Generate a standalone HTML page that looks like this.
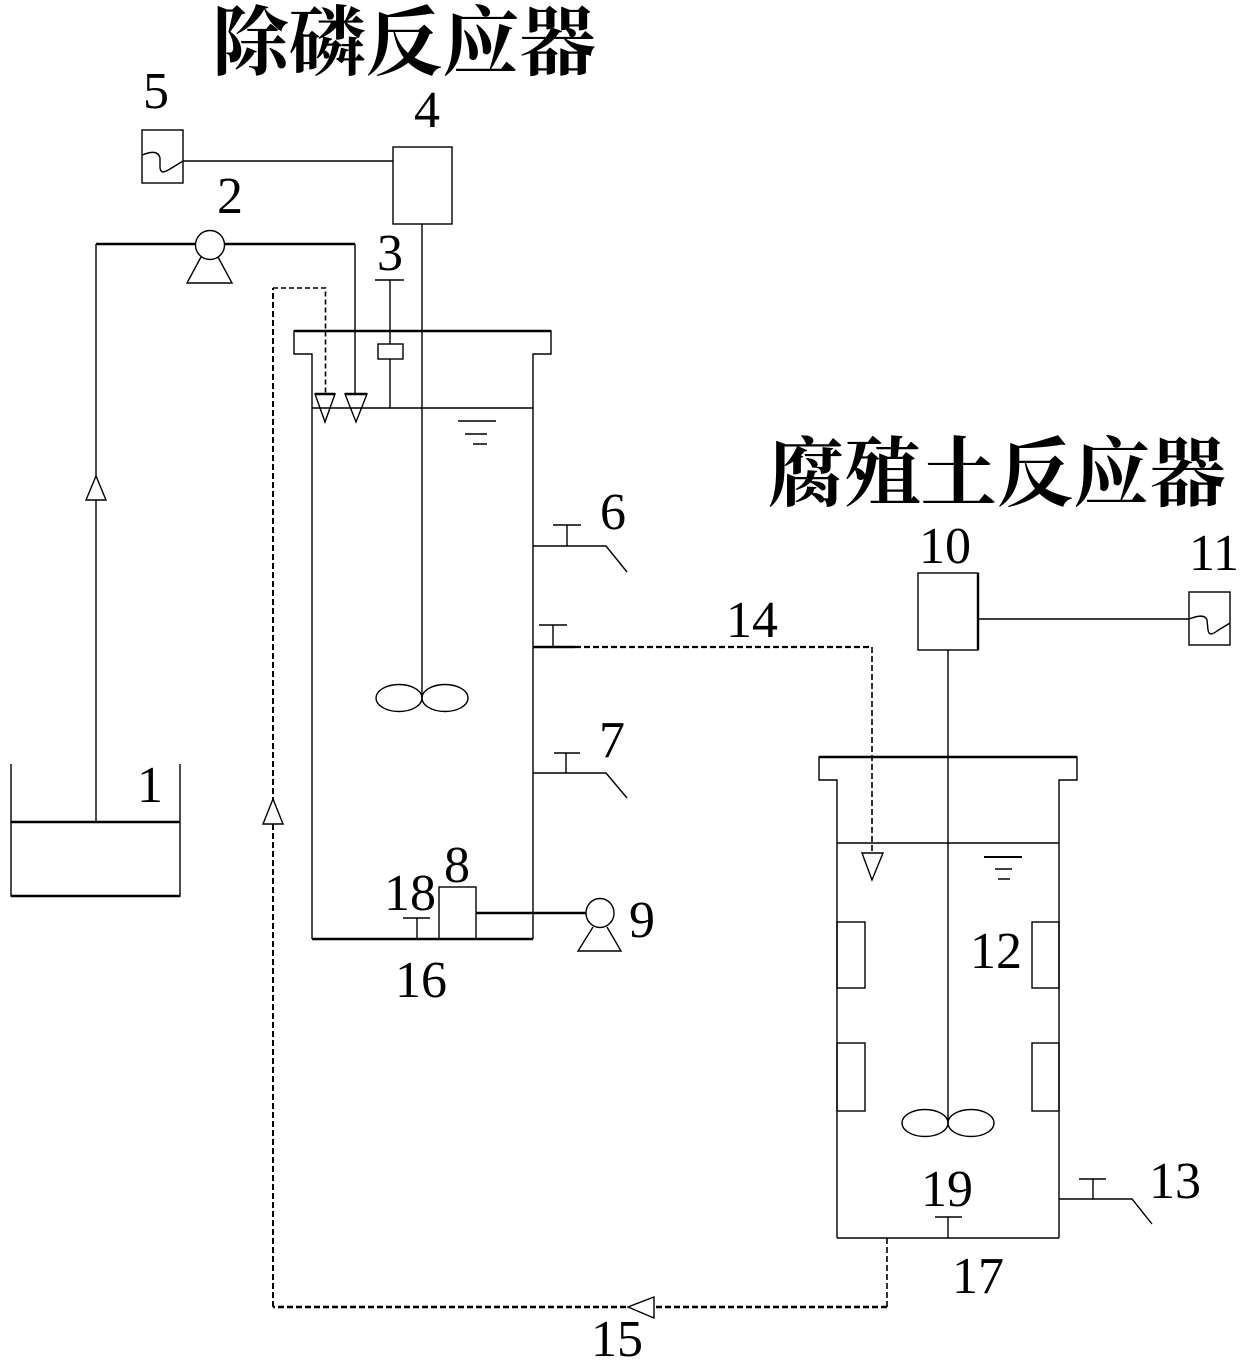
<!DOCTYPE html>
<html>
<head>
<meta charset="utf-8">
<style>
  html,body{margin:0;padding:0;background:#fff;}
  svg{display:block;}
  .t{font-family:"Liberation Serif","Times New Roman",serif;font-size:52px;fill:#000;text-anchor:middle;}
  .cn{font-family:"Liberation Serif","Noto Serif CJK SC","Noto Sans CJK SC",serif;font-size:76px;font-weight:700;fill:#000;}
</style>
</head>
<body>
<svg width="1248" height="1368" viewBox="0 0 1248 1368" xmlns="http://www.w3.org/2000/svg">
  <rect width="1248" height="1368" fill="#fff"/>

  <!-- Titles -->
  <text class="cn" x="212" y="69" textLength="384" lengthAdjust="spacingAndGlyphs">除磷反应器</text>
  <text class="cn" x="768" y="500" textLength="458" lengthAdjust="spacingAndGlyphs">腐殖土反应器</text>

  <g fill="none" stroke="#000" stroke-width="1.4">
    <!-- Box 5 and wave -->
    <rect x="142" y="130" width="41" height="53"/>
    <path d="M142,155 C150,152 158,150 160,158 L160,168 C161,174 165,172 170,169 L183,161"/>
    <path d="M183,161 H393"/>
    <!-- Box 4 -->
    <rect x="393" y="147" width="59" height="77"/>
    <path d="M422,224 V698"/>

    <!-- Pump 2 and feed pipe -->
    <circle cx="210" cy="245" r="14.5"/>
    <path d="M201,257 L187,283 H232 L218,257"/>
    <path d="M96,822 V244"/>
    <path d="M96,244 H195.5" stroke-width="2.4"/>
    <path d="M224.5,244 H355" stroke-width="2.4"/>
    <path d="M355,244 V394"/>
    <!-- up arrow on feed pipe -->
    <polygon points="96,476 86,500 106,500" fill="#fff"/>

    <!-- inlet triangles -->
    <polygon points="315,394 335,394 325,422" fill="#fff"/>
    <polygon points="345,394 367,394 356,422" fill="#fff"/>
    <path d="M315,394 H335 M345,394 H367" stroke-width="2.4"/>

    <!-- Item 3 -->
    <path d="M375,280 H404 M390,280 V408"/>
    <rect x="378" y="344" width="25" height="15" fill="#fff"/>

    <!-- Reactor 1 -->
    <path d="M312,939 V354 H294 V331 H551 V354 H533 V939"/>
    <path d="M294,331 H551" stroke-width="2.6"/>
    <path d="M312,939 H533" stroke-width="2.6"/>
    <path d="M312,408 H533"/>
    <path d="M458,421 H496 M465,434 H487 M473,444 H487"/>
    <ellipse cx="399" cy="698" rx="23" ry="13.5"/>
    <ellipse cx="445" cy="698" rx="23" ry="13.5"/>

    <!-- Valve 6 -->
    <path d="M533,546 H606 L627,572 M567,546 V525 M553,525 H581"/>
    <!-- Outlet 14 -->
    <path d="M533,647 H575" stroke-width="2.4"/>
    <path d="M553,647 V625 M539,625 H567"/>
    <path d="M575,647 H872" stroke-width="2.2" stroke-dasharray="6 3"/>
    <path d="M872,647 V853" stroke-width="1.6" stroke-dasharray="6 3"/>
    <polygon points="862,853 883,853 872,880" fill="#fff"/>
    <!-- Valve 7 -->
    <path d="M533,773 H606 L627,798 M566,773 V753 M554,753 H580"/>

    <!-- Box 8, pump 9, T18 -->
    <rect x="439" y="887" width="37" height="52"/>
    <path d="M476,913 H585.5" stroke-width="2.4"/>
    <ellipse cx="600" cy="913" rx="14" ry="14.5"/>
    <path d="M593,927 L578,951 H621 L607,927"/>
    <path d="M417,939 V918 M403,918 H430"/>

    <!-- Tank 1 -->
    <path d="M11,764 V896 H180 V764"/>
    <path d="M11,822 H180" stroke-width="2.4"/>
    <path d="M11,896 H180" stroke-width="2.4"/>

    <!-- Recycle dashed line 15 -->
    <path d="M887,1238 V1307" stroke-width="1.6" stroke-dasharray="6 3"/>
    <path d="M887,1307 H273" stroke-width="2.4" stroke-dasharray="6 3"/>
    <path d="M273,1307 V288" stroke-width="2" stroke-dasharray="6 3"/>
    <path d="M273,288 H325.5 V394" stroke-width="1.6" stroke-dasharray="5 3"/>
    <polygon points="273,799 263,824 283,824" fill="#fff"/>
    <polygon points="628,1307 654,1297 654,1318" fill="#fff"/>

    <!-- Box 10, box 11 -->
    <rect x="918" y="573" width="60" height="77"/>
    <path d="M978,573 V650" stroke-width="2.4"/>
    <path d="M978,619 H1189"/>
    <rect x="1189" y="592" width="41" height="53"/>
    <path d="M1189,619 C1197,616 1205,614 1207,620 L1208,630 C1209,636 1213,634 1217,631 L1230,623"/>
    <path d="M948,650 V1123"/>

    <!-- Reactor 2 -->
    <path d="M837,1238 V780 H819 V757 H1077 V780 H1059 V1238"/>
    <path d="M819,757 H1077" stroke-width="2.6"/>
    <path d="M837,1238 H1059"/>
    <path d="M837,843 H1059"/>
    <path d="M984,857 H1022" stroke-width="2"/>
    <path d="M995,869 H1012 M998,879 H1010"/>
    <rect x="837" y="922" width="28" height="66"/>
    <rect x="1032" y="922" width="27" height="66"/>
    <rect x="837" y="1043" width="28" height="68"/>
    <rect x="1032" y="1043" width="27" height="68"/>
    <ellipse cx="925" cy="1123" rx="23" ry="13.5"/>
    <ellipse cx="971" cy="1123" rx="23" ry="13.5"/>
    <!-- Valve 13 -->
    <path d="M1059,1199 H1132 L1152,1224 M1093,1199 V1179 M1079,1179 H1106"/>
    <!-- T19 -->
    <path d="M948,1238 V1217 M935,1217 H962"/>
  </g>

  <!-- Number labels -->
  <text class="t" x="156" y="108">5</text>
  <text class="t" x="427" y="127">4</text>
  <text class="t" x="230" y="213">2</text>
  <text class="t" x="390" y="270">3</text>
  <text class="t" x="150" y="802">1</text>
  <text class="t" x="613" y="529">6</text>
  <text class="t" x="612" y="757">7</text>
  <text class="t" x="457" y="882">8</text>
  <text class="t" x="410" y="910">18</text>
  <text class="t" x="642" y="937">9</text>
  <text class="t" x="421" y="997">16</text>
  <text class="t" x="752" y="637">14</text>
  <text class="t" x="945" y="563">10</text>
  <text class="t" x="1214" y="570">11</text>
  <text class="t" x="996" y="968">12</text>
  <text class="t" x="1175" y="1198">13</text>
  <text class="t" x="947" y="1206">19</text>
  <text class="t" x="978" y="1293">17</text>
  <text class="t" x="617" y="1356">15</text>
</svg>
</body>
</html>
